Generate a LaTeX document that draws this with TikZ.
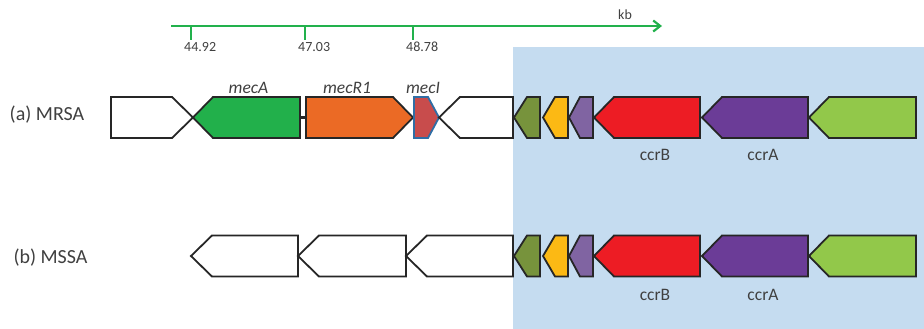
\documentclass[tikz,border=0pt]{standalone}
\usepackage{fontspec}
\setmainfont{Carlito}
\usetikzlibrary{arrows.meta}

\definecolor{sccblue}{RGB}{197,220,240}
\definecolor{bargreen}{RGB}{34,177,76}
\definecolor{mecagreen}{RGB}{34,176,75}
\definecolor{mecrorange}{RGB}{235,106,37}
\definecolor{mecired}{RGB}{200,76,76}
\definecolor{meciedge}{RGB}{47,110,165}
\definecolor{orfolive}{RGB}{119,147,60}
\definecolor{orfyellow}{RGB}{252,185,20}
\definecolor{orflilac}{RGB}{128,100,162}
\definecolor{ccrbred}{RGB}{237,28,36}
\definecolor{ccrapurple}{RGB}{107,60,151}
\definecolor{orflime}{RGB}{146,200,74}
\definecolor{textgray}{RGB}{64,64,64}

\tikzstyle{gene} = [draw=black!85, line width=1.8pt, line join=miter]
\tikzstyle{kbline} = [draw=bargreen, line width=2.2pt]
\tikzstyle{rowname} = [anchor=base west, inner sep=0, text=textgray, font=\fontsize{20}{24}\selectfont]
\tikzstyle{genename} = [anchor=base, inner sep=0, text=textgray, font=\fontsize{17.5}{20}\selectfont\itshape]
\tikzstyle{ccrname} = [anchor=base, inner sep=0, text=textgray, font=\fontsize{17.5}{20}\selectfont]
\tikzstyle{ticklabel} = [anchor=base west, inner sep=0, text=textgray, font=\fontsize{14}{16}\selectfont]

% gene pointing left: name, tip, shoulder, end, y, style
\newcommand{\geneleft}[6]{%
  \path[gene, #6] (#2,#5) -- (#3,#5-20.5) -- (#4,#5-20.5) -- (#4,#5+20.5) -- (#3,#5+20.5) -- cycle;
  \coordinate (#1-w) at (#2,#5); \coordinate (#1-e) at (#4,#5);}
% gene pointing right: name, start, shoulder, tip, y, style
\newcommand{\generight}[6]{%
  \path[gene, #6] (#2,#5-20.5) -- (#3,#5-20.5) -- (#4,#5) -- (#3,#5+20.5) -- (#2,#5+20.5) -- cycle;
  \coordinate (#1-w) at (#2,#5); \coordinate (#1-e) at (#4,#5);}

\begin{document}
\begin{tikzpicture}[x=1pt, y=-1pt]
\useasboundingbox (0,0) rectangle (924,329);

% SCCmec region
\fill[sccblue] (513,47) rectangle (924,329);

% scale bar
\coordinate (kbstart) at (171,26);
\coordinate (kbend) at (662,26);
\draw[kbline, -{Straight Barb[length=7pt, width=11pt]}] (kbstart) -- (kbend);
\node[ticklabel] (kb) at (618,20) {kb};
\foreach \x/\t in {191/44.92, 305/47.03, 413/48.78} {
  \coordinate (tick\x) at (\x,26);
  \draw[kbline] (tick\x) -- ++(0,14);
  \node[ticklabel] (lab\x) at (\x-7,52) {\t};
}

% (a) MRSA
\node[rowname] (mrsa) at (9.5,120.7) {(a) MRSA};
\generight{wa1}{111}{172}{193}{117.5}{fill=white}
\geneleft{mecA}{193}{213}{300}{117.5}{fill=mecagreen}
\generight{mecR1}{306}{393}{413}{117.5}{fill=mecrorange}
\generight{mecI}{414}{428}{439}{117.5}{fill=mecired, draw=meciedge}
\geneleft{wa2}{439}{460}{513}{117.5}{fill=white}
\geneleft{oa1}{514}{527}{540}{117.5}{fill=orfolive}
\geneleft{oa2}{543}{555}{568}{117.5}{fill=orfyellow}
\geneleft{oa3}{569}{580}{593}{117.5}{fill=orflilac}
\geneleft{ccrBa}{594}{614}{700}{117.5}{fill=ccrbred}
\geneleft{ccrAa}{702}{722}{808}{117.5}{fill=ccrapurple}
\geneleft{oa4}{809}{829}{916}{117.5}{fill=orflime}

\draw[line width=3pt, black!85] (mecA-e) -- (mecR1-w);

\node[genename] (mecAlab) at (248.5,93.5) {mecA};
\node[genename] (mecR1lab) at (347,93.5) {mecR1};
\node[genename] (mecIlab) at (423,93.5) {mecI};
\node[ccrname] (ccrBlaba) at (655,160.5) {ccrB};
\node[ccrname] (ccrAlaba) at (763,160.5) {ccrA};

% (b) MSSA
\node[rowname] (mssa) at (13.3,263.3) {(b) MSSA};
\geneleft{wb1}{191}{212}{298}{256}{fill=white}
\geneleft{wb2}{298}{319}{406}{256}{fill=white}
\geneleft{wb3}{406}{427}{513}{256}{fill=white}
\geneleft{ob1}{514}{527}{540}{256}{fill=orfolive}
\geneleft{ob2}{543}{555}{568}{256}{fill=orfyellow}
\geneleft{ob3}{569}{580}{593}{256}{fill=orflilac}
\geneleft{ccrBb}{594}{614}{700}{256}{fill=ccrbred}
\geneleft{ccrAb}{702}{722}{808}{256}{fill=ccrapurple}
\geneleft{ob4}{809}{829}{916}{256}{fill=orflime}

\node[ccrname] (ccrBlabb) at (655,300) {ccrB};
\node[ccrname] (ccrAlabb) at (763,300) {ccrA};

\end{tikzpicture}
\end{document}
